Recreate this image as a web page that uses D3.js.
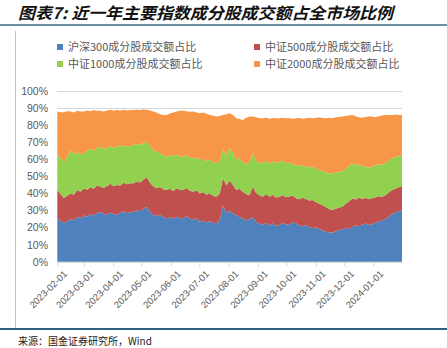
<!DOCTYPE html>
<html><head><meta charset="utf-8">
<script src="https://cdn.jsdelivr.net/npm/d3@7/dist/d3.min.js"></script>
<style>body{margin:0;background:#fff;}svg{display:block;}</style>
</head><body>
<svg id="c" width="447" height="348"></svg>
<script>
const startDate = "2023-02-01";
const seriesNames = ["沪深300成分股成交额占比","中证500成分股成交额占比","中证1000成分股成交额占比","中证2000成分股成交额占比"];
const colors = ["#4f81bd","#c0504d","#92d050","#f79646"];
const hs300 = [25.4,24.0,22.5,23.8,25.0,24.2,26.4,25.6,27.0,26.2,28.0,27.1,28.5,29.3,28.0,27.6,28.8,27.9,27.4,28.6,29.5,28.4,29.0,29.3,30.2,29.6,31.0,32.0,29.2,27.4,26.8,27.5,26.0,25.4,26.2,25.0,26.4,25.6,25.5,26.6,25.2,24.6,25.4,23.4,24.2,23.0,23.8,22.8,22.5,24.0,33.0,28.5,30.0,28.2,27.4,26.0,25.5,24.2,25.0,26.0,23.2,22.4,21.5,22.8,21.2,22.4,21.0,21.5,22.6,21.8,22.0,23.0,22.5,21.4,20.8,21.6,20.4,19.6,20.2,19.0,18.4,17.6,17.2,17.0,17.8,18.6,19.0,19.8,19.2,20.5,21.4,20.8,21.6,22.4,21.5,22.0,22.8,23.6,24.2,25.0,26.4,28.0,28.8,29.6,30.3];
const zz500 = [16.6,15.5,14.8,14.8,15.0,15.0,15.6,15.4,16.0,16.0,15.6,15.7,16.1,14.7,15.2,16.8,16.8,16.3,17.6,16.0,16.7,17.0,17.0,16.7,16.8,16.8,17.0,17.5,17.0,16.6,16.2,16.3,16.4,16.6,16.6,16.4,16.6,16.6,16.5,16.6,16.4,16.4,16.4,16.6,16.6,16.2,16.2,15.8,15.5,16.0,16.0,16.1,17.5,16.8,14.6,16.8,15.5,15.4,14.0,18.0,17.0,16.6,16.5,16.8,16.8,16.8,16.6,16.5,16.4,16.0,16.2,15.8,14.7,15.2,16.6,15.2,15.4,16.6,14.8,15.0,14.8,14.4,13.6,13.3,13.2,13.2,13.2,14.2,16.0,16.5,15.0,16.8,15.2,15.0,15.1,15.2,15.0,14.8,13.8,14.0,14.2,14.0,14.0,14.0,14.1];
const zz1000 = [20.5,20.9,21.3,22.4,25.0,24.0,22.0,21.8,20.7,22.6,22.6,22.2,22.0,23.4,22.8,22.4,22.2,22.4,22.4,23.6,21.2,22.6,21.6,22.4,22.0,22.2,21.6,20.8,21.4,21.5,21.4,19.8,20.0,19.5,19.8,20.4,19.8,19.4,19.5,19.2,19.4,19.4,19.4,19.6,19.4,19.8,19.8,19.8,19.7,19.0,17.0,17.4,19.0,19.0,18.0,17.8,17.0,17.8,19.0,19.5,18.8,19.2,19.7,19.4,19.6,19.6,20.2,20.6,20.2,20.0,19.8,18.6,19.5,19.4,19.2,19.0,19.4,19.5,19.6,19.8,19.8,20.4,20.8,21.5,21.2,20.8,20.6,20.6,20.8,20.7,20.0,19.4,19.4,18.2,18.4,18.5,18.6,18.8,18.8,18.7,18.6,18.6,18.6,18.4,18.1];
const zz2000 = [25.5,27.2,28.9,27.2,23.0,24.2,24.5,25.2,24.3,23.8,22.0,23.8,21.8,21.1,22.0,21.8,21.2,21.8,21.5,20.4,21.6,20.6,21.2,20.5,20.0,20.2,19.6,18.7,21.0,22.5,22.8,22.8,23.6,24.5,24.2,25.6,25.2,26.8,27.0,25.8,26.8,27.6,26.2,27.4,27.2,27.6,26.2,27.2,27.3,26.4,20.0,24.4,20.5,22.0,24.0,23.0,25.0,27.0,27.0,21.5,25.6,25.8,26.3,25.4,26.2,25.4,26.2,25.4,25.2,26.2,26.2,26.4,27.3,28.2,27.2,28.2,29.2,28.3,29.6,30.8,31.2,31.6,32.8,32.2,32.4,32.2,32.2,30.8,29.6,28.3,28.8,27.6,28.2,29.2,30.0,29.3,28.2,28.0,28.8,28.3,26.6,25.4,24.8,24.0,23.5];
const monthTicks = ["2023-02-01","2023-03-01","2023-04-01","2023-05-01","2023-06-01","2023-07-01","2023-08-01","2023-09-01","2023-10-01","2023-11-01","2023-12-01","2024-01-01"];
const yTicks = [0,10,20,30,40,50,60,70,80,90,100];

const parse = d3.timeParse("%Y-%m-%d");
const t0 = parse(startDate);
const rows = hs300.map((v,i)=>({date:d3.timeHour.offset(t0, i*84), a:v, b:zz500[i], c:zz1000[i], d:zz2000[i]}));
const keys = ["a","b","c","d"];

const svg = d3.select("#c");
const font = "'Noto Sans CJK SC','Noto Sans',sans-serif";

// frame lines
svg.append("line").attr("x1",0).attr("x2",447).attr("y1",25).attr("y2",25).attr("stroke","#3b6a86").attr("stroke-width",1.5);
svg.append("line").attr("x1",15.5).attr("x2",15.5).attr("y1",31).attr("y2",328).attr("stroke","#bfbfbf").attr("stroke-width",1);
svg.append("line").attr("x1",0).attr("x2",447).attr("y1",329).attr("y2",329).attr("stroke","#2f5f7c").attr("stroke-width",2);

// title
svg.append("text").attr("x",18).attr("y",19).attr("font-family",font).attr("font-size",16).attr("font-weight","bold").attr("font-style","italic")
  .attr("fill","#111").attr("textLength",375).attr("lengthAdjust","spacingAndGlyphs").text("图表7: 近一年主要指数成分股成交额占全市场比例");

// source
svg.append("text").attr("x",18).attr("y",345).attr("font-family",font).attr("font-size",10).attr("fill","#222").text("来源：国金证券研究所，Wind");

const x = d3.scaleTime().domain([t0, rows[rows.length-1].date]).range([57.3, 402]);
const y = d3.scaleLinear().domain([0,100]).range([261.7, 91]);

// gridlines
svg.append("g").selectAll("line").data(yTicks.filter(d=>d>0)).join("line")
  .attr("x1",57).attr("x2",402).attr("y1",d=>Math.round(y(d))+0.5).attr("y2",d=>Math.round(y(d))+0.5)
  .attr("stroke","#d9d9d9").attr("stroke-width",1);

const stack = d3.stack().keys(keys);
const series = stack(rows);
const area = d3.area().x(d=>x(d.data.date)).y0(d=>y(d[0])).y1(d=>y(d[1]));
svg.append("g").selectAll("path").data(series).join("path")
  .attr("d",area).attr("fill",(d,i)=>colors[i]);

// y axis labels
const yAxis = d3.axisLeft(y).tickValues(yTicks).tickFormat(d=>d+"%").tickSize(0).tickPadding(0);
const gy = svg.append("g").attr("transform","translate(48,0)").call(yAxis);
gy.select(".domain").remove();
gy.selectAll("text").attr("font-family","'Liberation Sans',Arial,sans-serif").attr("font-size",10.5).attr("fill","#595959");

// x axis
const xAxis = d3.axisBottom(x).tickValues(monthTicks.map(parse)).tickFormat(d3.timeFormat("%Y-%m-%d")).tickSize(4).tickSizeOuter(0);
const gx = svg.append("g").attr("transform",`translate(0,${Math.round(y(0))+0.5})`).call(xAxis);
gx.select(".domain").attr("stroke","#d9d9d9").attr("d","M57,0H402");
gx.selectAll(".tick line").attr("stroke","#d9d9d9");
gx.selectAll("text").attr("font-family","'Liberation Sans',Arial,sans-serif").attr("font-size",9.5).attr("fill","#595959")
  .attr("text-anchor","end").attr("dy",0).attr("transform","translate(5,7) rotate(-45)");

// legend
const legPos = [[60,47],[257,47],[60,64],[257,64]];
const leg = svg.append("g").selectAll("g").data(seriesNames).join("g").attr("transform",(d,i)=>`translate(${legPos[i][0]},${legPos[i][1]})`);
leg.append("rect").attr("x",-3).attr("y",-3).attr("width",6).attr("height",6).attr("fill",(d,i)=>colors[i]);
leg.append("text").attr("x",8).attr("y",4).attr("font-family",font).attr("font-size",11).attr("fill","#595959").text(d=>d);
</script>
</body></html>
